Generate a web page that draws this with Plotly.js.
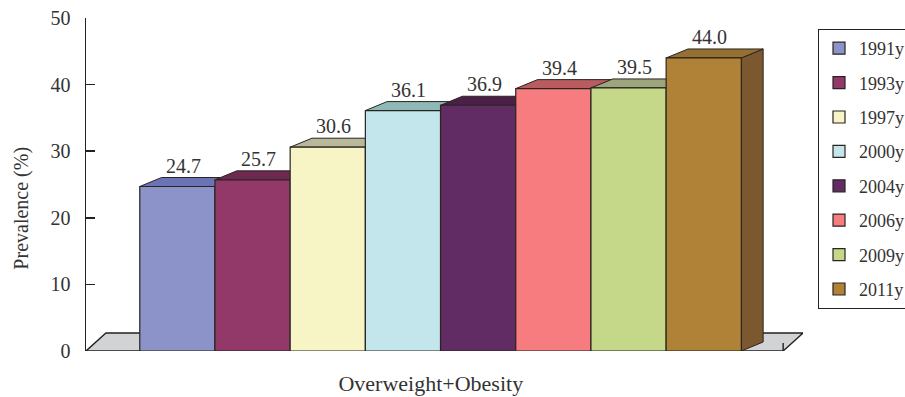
<!DOCTYPE html>
<html>
<head>
<meta charset="utf-8">
<script src="https://cdn.plot.ly/plotly-3.0.1.min.js"></script>
<style>html,body{margin:0;padding:0;background:#fff;overflow:hidden}</style>
</head>
<body>
<div id="chart" style="width:905px;height:397px"></div>
<script>
// Prevalence of overweight + obesity by survey year
const years = ['1991y','1993y','1997y','2000y','2004y','2006y','2009y','2011y'];
const prevalence = [24.7,25.7,30.6,36.1,36.9,39.4,39.5,44.0];
const frontColors = ['#8B93C9','#93396A','#F7F5C6','#C3E6EC','#612C63','#F67C80','#C5D88A','#B08237'];
const topColors = ['#6B72B5','#6F2850','#BAB89A','#8FB8B8','#4A2048','#B85C60','#9DA57C','#967032'];
const sideColor = '#7B582F';
const floorColor = '#D2D3D5';
const groupLabel = ['Overweight+Obesity'];

// Oblique projection: depth offsets in axis units
const depthX = 0.29, depthY = 1.35;
const floorDepthX = 0.265, floorDepthY = 2.7;
const xMin = -1.215, xFloorEnd = 8.056, xMax = 8.32;
const edge = '#2a2420';

const traces = [];

// floor, drawn behind everything
traces.push({
  x:[xMin, xMin+floorDepthX, xFloorEnd+floorDepthX, xFloorEnd, xMin],
  y:[0, floorDepthY, floorDepthY, 0, 0],
  mode:'lines', fill:'toself', fillcolor:floorColor,
  line:{color:'#222', width:1.4}, cliponaxis:false, showlegend:false, hoverinfo:'skip'
});
traces.push({
  x:[xFloorEnd, xFloorEnd], y:[0, 1.2], mode:'lines',
  line:{color:'#222', width:1.4}, cliponaxis:false, showlegend:false, hoverinfo:'skip'
});

// side wall of the last column
const lastI = prevalence.length - 1, lastV = prevalence[lastI];
traces.push({
  x:[lastI+.5, lastI+.5+depthX, lastI+.5+depthX, lastI+.5, lastI+.5],
  y:[0, depthY, lastV+depthY, lastV, 0],
  mode:'lines', fill:'toself', fillcolor:sideColor,
  line:{color:edge, width:1}, showlegend:false, hoverinfo:'skip'
});

// top faces
prevalence.forEach((v,i)=>{
  traces.push({
    x:[i-.5, i-.5+depthX, i+.5+depthX, i+.5, i-.5],
    y:[v, v+depthY, v+depthY, v, v],
    mode:'lines', fill:'toself', fillcolor:topColors[i],
    line:{color:edge, width:1}, showlegend:false, hoverinfo:'skip'
  });
});

// front faces sit on an overlaid subplot so they cover the neighbouring tops
prevalence.forEach((v,i)=>{
  traces.push({
    type:'bar', x:[i], y:[v], width:1, name:years[i], legendgroup:years[i],
    xaxis:'x2', yaxis:'y2',
    marker:{color:frontColors[i], line:{color:edge, width:1.2}},
    hovertemplate:years[i]+': %{y}<extra></extra>'
  });
});

const serif = '"Liberation Serif", serif';
const labelFont = {family:serif, size:20, color:'#333'};
const legendFont = {family:serif, size:18, color:'#333'};

const valueLabels = prevalence.map((v,i)=>({
  x:i+0.08, y:v+depthY, xref:'x2', yref:'y2', text:v.toFixed(1),
  showarrow:false, yanchor:'bottom', yshift:-1, font:labelFont
}));

// value-axis caption sits below the axis midpoint
const axisCaption = {
  xref:'paper', yref:'paper', x:0, xanchor:'center', yanchor:'middle', xshift:-64.5, y:0.429, textangle:-90,
  text:'Prevalence (%)', showarrow:false, font:labelFont
};

const layout = {
  width:905, height:397,
  margin:{l:85.5, r:101.5, t:18, b:46, pad:0},
  paper_bgcolor:'#fff', plot_bgcolor:'rgba(0,0,0,0)',
  barmode:'overlay', showlegend:true,
  xaxis:{range:[xMin,xMax], tickmode:'array', tickvals:[3.37], ticktext:groupLabel,
         ticks:'', showgrid:false, zeroline:false, showline:false,
         ticklabelstandoff:17, tickfont:{family:serif, size:22, color:'#333'}},
  yaxis:{range:[0,50], dtick:10, ticks:'inside', ticklen:9, tickwidth:1.5, tickcolor:'#222',
         showline:true, linecolor:'#222', linewidth:1.5, showgrid:false, zeroline:false,
         ticklabelstandoff:10, tickfont:labelFont},
  xaxis2:{overlaying:'x', range:[xMin,xMax], visible:false},
  yaxis2:{overlaying:'y', range:[0,50], visible:false},
  legend:{xref:'container', yref:'container', x:818/905, y:1-29/397, xanchor:'left', yanchor:'top',
          bordercolor:'#222', borderwidth:1, bgcolor:'#fff', font:legendFont, maxheight:300,
          tracegroupgap:8, itemwidth:30, traceorder:'grouped', entrywidth:100, entrywidthmode:'pixels',
          itemclick:false, itemdoubleclick:false},
  annotations:valueLabels.concat([axisCaption])
};

Plotly.newPlot('chart', traces, layout, {displayModeBar:false, staticPlot:true});
</script>
</body>
</html>
